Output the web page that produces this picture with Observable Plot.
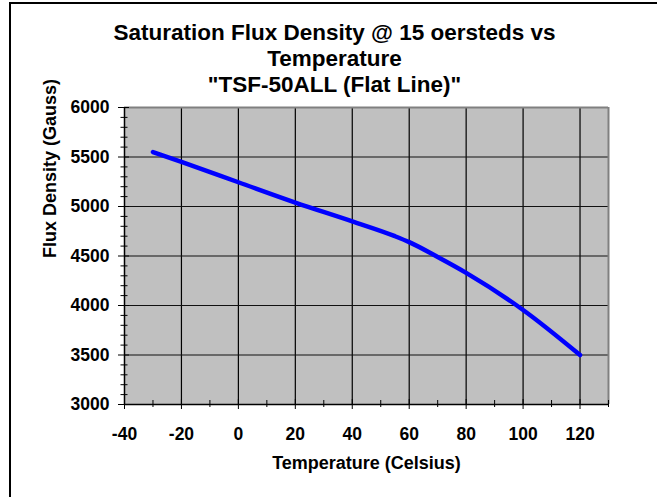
<!DOCTYPE html>
<html>
<head>
<meta charset="utf-8">
<script src="https://cdn.jsdelivr.net/npm/d3@7"></script>
<script src="https://cdn.jsdelivr.net/npm/@observablehq/plot@0.6"></script>
<style>
  html, body { margin: 0; padding: 0; background: #fff; overflow: hidden; }
  #wrap { position: relative; width: 657px; height: 497px; overflow: hidden; }
  #frame { position: absolute; left: 9px; top: 2px; width: 800px; height: 700px;
           border-left: 2px solid #000; border-top: 2px solid #000; }
  #chart { position: absolute; left: 0; top: 0; }
</style>
</head>
<body>
<div id="wrap"><div id="frame"></div><div id="chart"></div></div>
<script>
// Data
const temperature = [-30, -20, 0, 20, 40, 55, 60, 70, 80, 100, 120];
const fluxDensity = [5550, 5450, 5245, 5040, 4850, 4700, 4640, 4490, 4330, 3955, 3500];

// Axes
const xDomain = [-40, 130];
const yDomain = [3000, 6000];
const xTicks = [-40, -20, 0, 20, 40, 60, 80, 100, 120];
const xMinor = [-30, -10, 10, 30, 50, 70, 90, 110, 130];
const yTicks = [3000, 3500, 4000, 4500, 5000, 5500, 6000];
const yMinor = d3.range(3100, 6000, 100).filter(v => v % 500 !== 0);
const xGrid = [-20, 0, 20, 40, 60, 80, 100, 120];
const yGrid = [3500, 4000, 4500, 5000, 5500];

const titleLines = ["Saturation Flux Density @ 15 oersteds vs", "Temperature", "\"TSF-50ALL (Flat Line)\""];
const xTitle = "Temperature (Celsius)";
const yTitle = "Flux Density (Gauss)";

const data = temperature.map((t, i) => ({t, b: fluxDensity[i]}));
const plain = d => String(d);

const plot = Plot.plot({
  width: 657,
  height: 497,
  marginLeft: 124,
  marginRight: 49,
  marginTop: 107,
  marginBottom: 93,
  style: {fontFamily: "'Liberation Sans', Arial, sans-serif", fontWeight: "bold", fontSize: "17.5px", color: "#000", background: "transparent"},
  x: {domain: xDomain, label: null},
  y: {domain: yDomain, label: null},
  marks: [
    Plot.frame({fill: "#C0C0C0", stroke: null}),
    Plot.gridX(xGrid, {stroke: "#000", strokeOpacity: 1, strokeWidth: 1.2}),
    Plot.gridY(yGrid, {stroke: "#111", strokeOpacity: 1, strokeWidth: 1.2}),
    Plot.ruleX([xDomain[1]], {stroke: "#808080", strokeWidth: 2}),
    Plot.ruleY([yDomain[1]], {stroke: "#808080", strokeWidth: 2}),
    Plot.ruleX([xDomain[0]], {stroke: "#000", strokeWidth: 1.5}),
    Plot.ruleY([yDomain[0]], {stroke: "#000", strokeWidth: 1.5}),
    // y ticks crossing the axis
    Plot.axisY(yTicks, {tickSize: 11, dx: 5, tickFormat: () => "", label: null}),
    Plot.axisY(yMinor, {tickSize: 7, dx: 3.5, tickFormat: () => "", label: null}),
    Plot.axisY(yTicks, {tickSize: 0, tickPadding: 15, label: null, fontSize: 17.5, tickFormat: plain}),
    // x ticks crossing the axis
    Plot.axisX(xTicks, {tickSize: 10, dy: -5, tickFormat: () => "", label: null}),
    Plot.axisX(xMinor, {tickSize: 7, dy: -4, tickFormat: () => "", label: null}),
    Plot.axisX(xTicks, {tickSize: 0, tickPadding: 23, label: null, fontSize: 17.5, tickFormat: plain}),
    // data line
    Plot.line(data, {x: "t", y: "b", stroke: "#0000FF", strokeWidth: 4.5, curve: "monotone-x", strokeLinecap: "round", strokeLinejoin: "round"}),
    // titles
    Plot.text([titleLines[0]], {frameAnchor: "top", lineAnchor: "middle", dx: -32, dy: -75, fontSize: 22.5, fontWeight: "bold"}),
    Plot.text([titleLines[1]], {frameAnchor: "top", lineAnchor: "middle", dx: -32, dy: -49, fontSize: 22.5, fontWeight: "bold"}),
    Plot.text([titleLines[2]], {frameAnchor: "top", lineAnchor: "middle", dx: -32, dy: -23, fontSize: 22.5, fontWeight: "bold"}),
    Plot.text([xTitle], {frameAnchor: "bottom", lineAnchor: "middle", dy: 59, fontSize: 18, fontWeight: "bold"}),
    Plot.text([yTitle], {frameAnchor: "left", dx: -74, dy: 2, rotate: -90, fontSize: 18, fontWeight: "bold"})
  ]
});
document.getElementById("chart").appendChild(plot);
</script>
</body>
</html>
